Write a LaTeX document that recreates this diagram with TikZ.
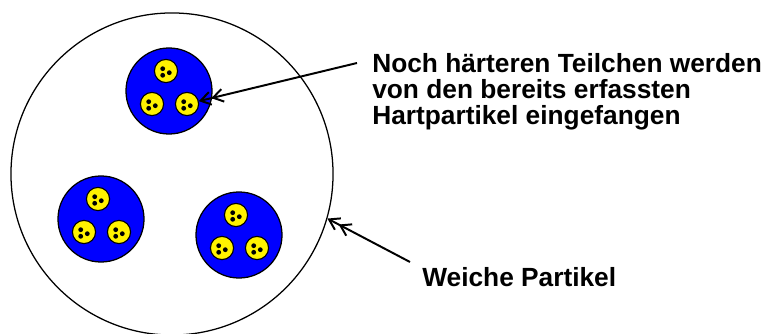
\documentclass[tikz,border=0pt]{standalone}
\usepackage{fontspec}
\setmainfont{Liberation Sans}
\usetikzlibrary{arrows.meta}

\tikzset{
  huelle/.style={circle, draw=black, line width=0.9pt, minimum size=8.05cm, inner sep=0pt},
  korn/.style={circle, fill=blue, draw=black, line width=0.9pt, minimum size=2.15cm, inner sep=0pt},
  teil/.style={circle, fill=yellow, draw=black, line width=0.8pt, minimum size=0.58cm, inner sep=0pt},
  punkt/.style={circle, fill=black, minimum size=0.12cm, inner sep=0pt},
  etikett/.style={font=\fontsize{18.7}{18.8}\selectfont\bfseries, align=left, inner sep=0pt},
  pfeil/.style={line width=1.4pt, -{Straight Barb[length=2.5mm, width=3.2mm]Straight Barb[length=2.5mm, width=3.2mm]}}
}

\begin{document}
\begin{tikzpicture}[x=0.025cm, y=-0.025cm]
        \useasboundingbox (0,0) rectangle (777,334);

        % Weiche Partikel (outer shell)
        \node[huelle] (gross) at (172,174) {};

        % Hartpartikel with their hard particles
        \foreach \k/\x/\y in {a/169/91, b/101/219, c/239/235} {
          \node[korn] (\k) at (\x,\y) {};
          \foreach \t/\dx/\dy in {1/-3/-20, 2/-17/13, 3/18/13} {
            \node[teil] (\k\t) at (\x+\dx,\y+\dy) {};
            \node[punkt] (\k\t p1) at (\x+\dx-3.3,\y+\dy-2.3) {};
            \node[punkt] (\k\t p2) at (\x+\dx-3.3,\y+\dy+4.3) {};
            \node[punkt] (\k\t p3) at (\x+\dx+3.3,\y+\dy+1.7) {};
          }
        }

        % Labels (base = baseline of the last line)
        \node[etikett, anchor=base west] (hart) at (372,125)
          {Noch härteren Teilchen werden\\von den bereits erfassten\\Hartpartikel eingefangen};
        \node[etikett, anchor=base west] (weich) at (422,287) {Weiche Partikel};

        % Arrows
        \coordinate (hartfuss) at (357,63);
        \coordinate (weichfuss) at (410,262);
        \draw[pfeil] (hartfuss) -- (a3);
        \draw[pfeil] (weichfuss) -- (gross.-16);
    \end{tikzpicture}
\end{document}
